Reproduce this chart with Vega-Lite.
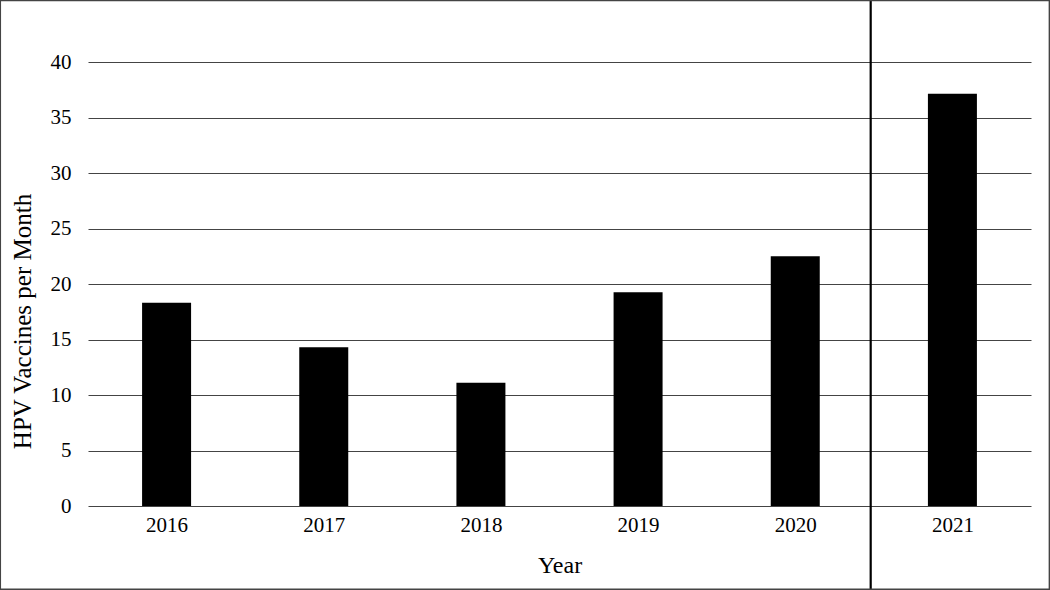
{
  "$schema": "https://vega.github.io/schema/vega-lite/v6.json",
  "width": 943,
  "height": 444,
  "autosize": {"type": "none"},
  "padding": {"left": 88, "top": 62, "right": 19, "bottom": 84},
  "background": "white",
  "config": {
    "view": {"stroke": null},
    "font": "Liberation Serif"
  },
  "datasets": {
    "bars": [
      {"year": 2016, "value": 18.3},
      {"year": 2017, "value": 14.3},
      {"year": 2018, "value": 11.1},
      {"year": 2019, "value": 19.25},
      {"year": 2020, "value": 22.5},
      {"year": 2021, "value": 37.15}
    ],
    "separator": [{"x": 2020.48, "ylo": -7.6, "yhi": 45.7}],
    "frame": [{"x1": 2014.942, "x2": 2021.617, "y1": -7.5, "y2": 45.55}]
  },
  "layer": [
    {
      "data": {"name": "bars"},
      "mark": {"type": "bar", "color": "black", "size": 49},
      "encoding": {
        "x": {
          "field": "year",
          "type": "quantitative",
          "scale": {"domain": [2015.5, 2021.5], "nice": false, "zero": false, "padding": 0},
          "axis": {
            "values": [2016, 2017, 2018, 2019, 2020, 2021],
            "format": "d",
            "grid": false,
            "ticks": false,
            "domain": false,
            "labelFont": "Liberation Serif",
            "labelFontSize": 21,
            "labelColor": "black",
            "labelPadding": 8,
            "title": "Year",
            "titleFont": "Liberation Serif",
            "titleFontSize": 24,
            "titleFontWeight": "normal",
            "titleColor": "black",
            "titlePadding": 18
          }
        },
        "y": {
          "field": "value",
          "type": "quantitative",
          "scale": {"domain": [0, 40], "nice": false},
          "axis": {
            "values": [0, 5, 10, 15, 20, 25, 30, 35, 40],
            "grid": true,
            "gridColor": "#444444",
            "gridWidth": 1.2,
            "gridOpacity": 1,
            "ticks": false,
            "domain": false,
            "labelFont": "Liberation Serif",
            "labelFontSize": 21,
            "labelColor": "black",
            "labelPadding": 17,
            "title": "HPV Vaccines per Month",
            "titleFont": "Liberation Serif",
            "titleFontSize": 25,
            "titleFontWeight": "normal",
            "titleColor": "black",
            "titleX": -53,
            "titleY": 259
          }
        }
      }
    },
    {
      "data": {"name": "separator"},
      "mark": {"type": "rule", "color": "black", "strokeWidth": 2.2, "clip": false},
      "encoding": {
        "x": {"field": "x", "type": "quantitative"},
        "y": {"field": "ylo", "type": "quantitative"},
        "y2": {"field": "yhi"}
      }
    },
    {
      "data": {"name": "frame"},
      "mark": {"type": "rect", "fill": null, "stroke": "#444444", "strokeWidth": 1.5, "clip": false},
      "encoding": {
        "x": {"field": "x1", "type": "quantitative"},
        "x2": {"field": "x2"},
        "y": {"field": "y1", "type": "quantitative"},
        "y2": {"field": "y2"}
      }
    }
  ]
}
